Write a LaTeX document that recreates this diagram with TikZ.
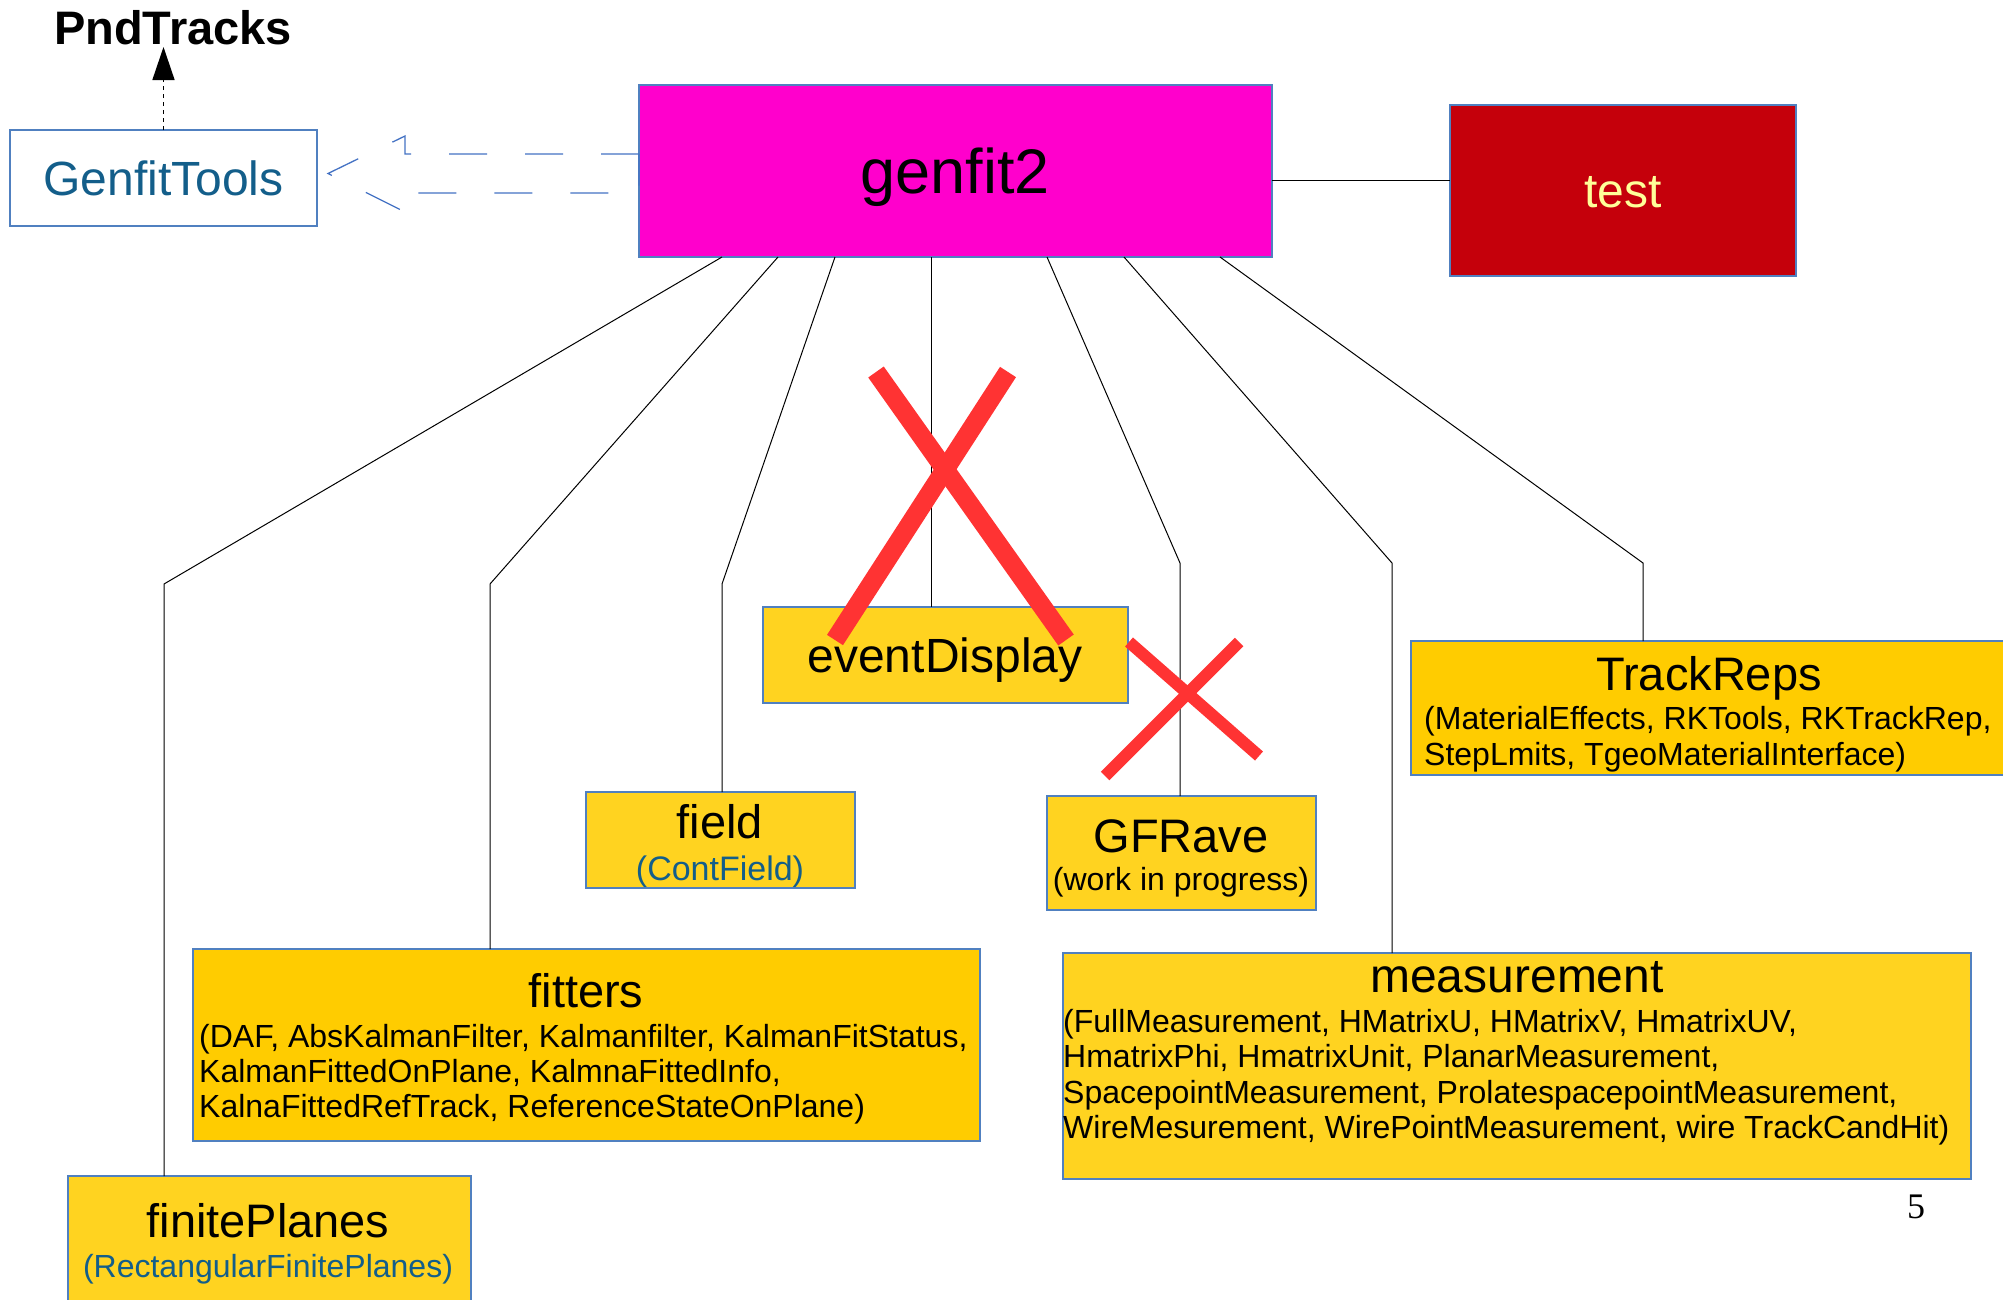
\documentclass[tikz,border=0pt]{standalone}
\usepackage{fontspec}
\setmainfont{Liberation Sans}
\newfontfamily\pagenumfont{Liberation Serif}
\usetikzlibrary{arrows.meta,calc}
\definecolor{magentaF}{HTML}{FF00CC}
\definecolor{testred}{HTML}{C5000B}
\definecolor{testtxt}{HTML}{FFFF99}
\definecolor{goldA}{HTML}{FFD320}
\definecolor{goldB}{HTML}{FFCC00}
\definecolor{bordblue}{HTML}{5080C0}
\definecolor{arrblue}{HTML}{4472C4}
\definecolor{tealtxt}{HTML}{135E8A}
\definecolor{xred}{HTML}{FF3333}
\tikzset{
  box/.style={draw=bordblue, line width=1.3pt, inner sep=0pt, outer sep=0pt, rectangle},
  conn/.style={draw=black, line width=1pt},
  ttl/.style={anchor=base, inner sep=0pt, font=\fontsize{47}{56}\selectfont},
  subt/.style={anchor=base west, inner sep=0pt, font=\fontsize{32}{38}\selectfont},
  subc/.style={anchor=base, inner sep=0pt, font=\fontsize{32}{38}\selectfont},
  cross/.style={draw=xred, line width=19pt},
  smallcross/.style={draw=xred, line width=12pt},
}
\begin{document}
\begin{tikzpicture}[x=1pt,y=-1pt]
\useasboundingbox (0,0) rectangle (2003,1299);
\clip (0,0) rectangle (2003,1299);
\fill[white] (0,0) rectangle (2003,1299);

% boxes
\node[box, fill=magentaF, minimum width=633pt, minimum height=172pt] (genfit2) at (955.5,171) {};
\node[box, fill=testred, minimum width=346pt, minimum height=171pt] (test) at (1623,190.5) {};
\node[box, fill=white, minimum width=307pt, minimum height=96pt] (tools) at (163.5,178) {};
\node[box, fill=goldA, minimum width=365pt, minimum height=96pt] (event) at (945.5,655) {};
\node[box, fill=goldA, minimum width=269pt, minimum height=96pt] (field) at (720.5,840) {};
\node[box, fill=goldA, minimum width=269pt, minimum height=114pt] (gfrave) at (1181.5,853) {};
\node[box, fill=goldB, minimum width=599pt, minimum height=134pt] (trackreps) at (1710.5,708) {};
\node[box, fill=goldB, minimum width=787pt, minimum height=192pt] (fitters) at (586.5,1045) {};
\node[box, fill=goldA, minimum width=403pt, minimum height=134pt] (finite) at (269.5,1243) {};
\node[box, fill=goldA, minimum width=908pt, minimum height=226pt] (meas) at (1517,1066) {};

% connectors
\coordinate (g1) at ($(genfit2.south west)+(83,0)$);
\coordinate (g2) at ($(genfit2.south west)+(139,0)$);
\coordinate (g3) at ($(genfit2.south west)+(196,0)$);
\coordinate (g4) at ($(genfit2.south west)+(292,0)$);
\coordinate (g5) at ($(genfit2.south west)+(408,0)$);
\coordinate (g6) at ($(genfit2.south west)+(485,0)$);
\coordinate (g7) at ($(genfit2.south west)+(581,0)$);
\coordinate (b1) at (164,584);
\coordinate (b2) at (490,584);
\coordinate (b3) at (722,584);
\coordinate (b5) at (1180,563);
\coordinate (b6) at (1392,563);
\coordinate (b7) at (1643,563);
\draw[conn] (g1) -- (b1) -- (b1 |- finite.north);
\draw[conn] (g2) -- (b2) -- (b2 |- fitters.north);
\draw[conn] (g3) -- (b3) -- (b3 |- field.north);
\draw[conn] (g4) -- (g4 |- event.north);
\draw[conn] (g5) -- (b5) -- (b5 |- gfrave.north);
\draw[conn] (g6) -- (b6) -- (b6 |- meas.north);
\draw[conn] (g7) -- (b7) -- (b7 |- trackreps.north);
\draw[conn] (genfit2.east |- 0,180) -- (test.west |- 0,180);

% dashed block arrow genfit2 -> GenfitTools
\coordinate (tip) at (328,173.5);
\draw[draw=arrblue, line width=1.3pt, dash pattern=on 38pt off 38pt]
  (genfit2.west |- 0,154) -- (405,154) -- (405,136) -- (tip) -- (405,212) -- (405,193) -- (genfit2.west |- 0,193) -- cycle;

% PndTracks arrow
\node[anchor=base, inner sep=0pt, font=\bfseries\fontsize{47}{56}\selectfont] (pnd) at (173,44) {PndTracks};
\coordinate (pndtip) at (163.5,47);
\draw[line width=1.5pt, dash pattern=on 4pt off 4pt, -{Triangle[length=33pt,width=22pt]}] (tools.north) -- (pndtip);

% texts
\node[ttl, font=\fontsize{63}{72}\selectfont] (t-genfit2) at (955,193) {genfit2};
\node[ttl, font=\fontsize{48}{56}\selectfont, text=testtxt] (t-test) at (1623,207) {test};
\node[ttl, font=\fontsize{48}{56}\selectfont, text=tealtxt] (t-tools) at (163.5,195) {GenfitTools};
\node[ttl, font=\fontsize{48}{56}\selectfont] (t-event) at (945,672) {eventDisplay};
\node[ttl] (t-field) at (720,838) {field};
\node[subc, font=\fontsize{34}{38}\selectfont, text=tealtxt] (s-field) at (720,880) {(ContField)};
\node[ttl] (t-gfrave) at (1181,852) {GFRave};
\node[subc] (s-gfrave) at (1181,890) {(work in progress)};
\node[ttl] (t-track) at (1709,690) {TrackReps};
\node[subt] (s-track1) at (1424,729) {(MaterialEffects, RKTools, RKTrackRep,};
\node[subt] (s-track2) at (1424,765) {StepLmits, TgeoMaterialInterface)};
\node[ttl] (t-fitters) at (586,1007) {fitters};
\node[subt] (s-fit1) at (199,1047) {(DAF, AbsKalmanFilter, Kalmanfilter, KalmanFitStatus,};
\node[subt] (s-fit2) at (199,1082) {KalmanFittedOnPlane, KalmnaFittedInfo,};
\node[subt] (s-fit3) at (199,1117) {KalnaFittedRefTrack, ReferenceStateOnPlane)};
\node[ttl] (t-finite) at (268,1237) {finitePlanes};
\node[subc, text=tealtxt] (s-finite) at (268,1277) {(RectangularFinitePlanes)};
\node[ttl, font=\fontsize{48}{56}\selectfont] (t-meas) at (1517,992) {measurement};
\node[subt] (s-meas1) at (1063,1032) {(FullMeasurement, HMatrixU, HMatrixV, HmatrixUV,};
\node[subt] (s-meas2) at (1063,1067) {HmatrixPhi, HmatrixUnit, PlanarMeasurement,};
\node[subt] (s-meas3) at (1063,1103) {SpacepointMeasurement, ProlatespacepointMeasurement,};
\node[subt] (s-meas4) at (1063,1138) {WireMesurement, WirePointMeasurement, wire TrackCandHit)};
\node[anchor=base, inner sep=0pt, font=\pagenumfont\fontsize{36}{40}\selectfont] (pagenum) at (1916,1218) {5};

% red crosses
\draw[cross] (876,372) -- (1066,640);
\draw[cross] (1008,372) -- (835,640);
\draw[smallcross] (1129,642) -- (1259,756);
\draw[smallcross] (1239,642) -- (1105,776);
\end{tikzpicture}
\end{document}
